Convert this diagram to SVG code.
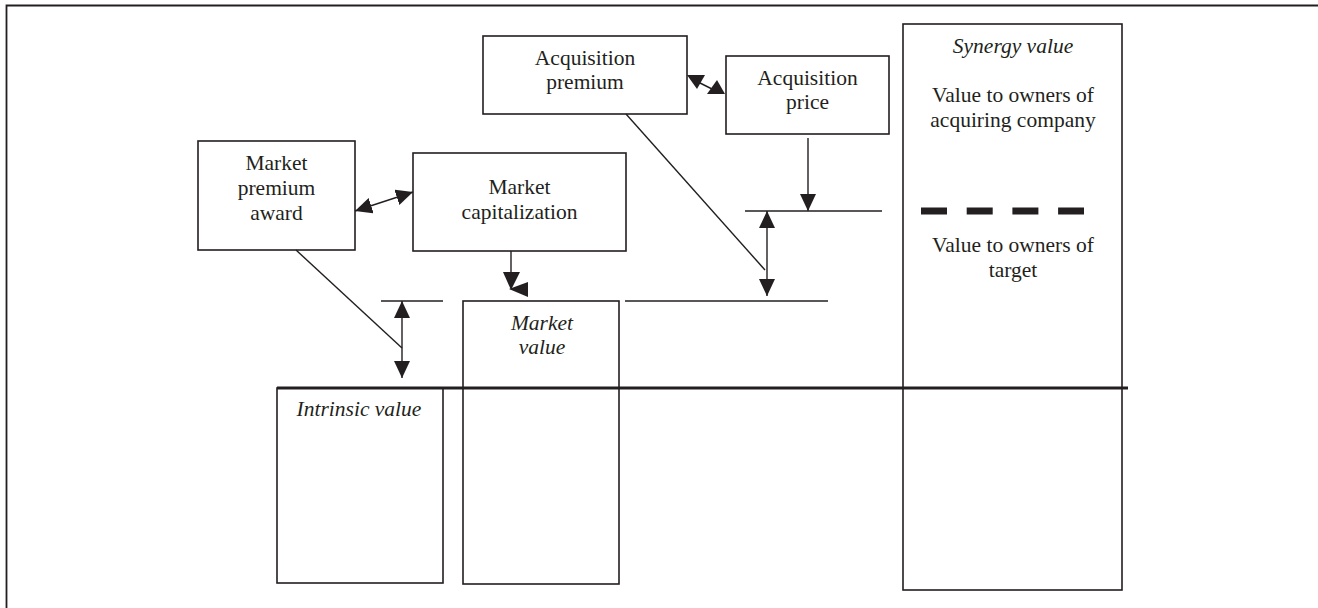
<svg xmlns="http://www.w3.org/2000/svg" width="1318" height="608" viewBox="0 0 1318 608">
<style>
.box{fill:#fff;stroke:#231f20;stroke-width:1.6}
.ln{fill:none;stroke:#231f20;stroke-width:1.4}
.t{font-family:"Liberation Serif","Times New Roman",serif;font-size:21.5px;fill:#231f20;text-anchor:middle}
.i{font-style:italic}
.head{fill:#231f20;stroke:none}
</style>
<defs>
<marker id="ah" viewBox="0 0 17 16" refX="17" refY="8" markerWidth="17" markerHeight="16" markerUnits="userSpaceOnUse" orient="auto-start-reverse">
<path d="M0,0 L17,8 L0,16 z" fill="#231f20"/>
</marker>
</defs>
<rect x="0" y="0" width="1318" height="608" fill="#fff"/>
<path d="M6.5,608 V5.5 H1318" fill="none" stroke="#231f20" stroke-width="1.8"/>

<g id="intrinsic-value">
<rect class="box" x="277" y="388" width="166" height="195"/>
<text class="t i" x="359" y="416">Intrinsic value</text>
</g>
<g id="market-value">
<rect class="box" x="463" y="301" width="156" height="283"/>
<text class="t i" x="542" y="330">Market</text>
<text class="t i" x="542" y="354">value</text>
</g>
<g id="synergy-value">
<rect class="box" x="903" y="24" width="219" height="566"/>
<text class="t i" x="1013" y="53">Synergy value</text>
<text class="t" x="1013" y="102">Value to owners of</text>
<text class="t" x="1013" y="127">acquiring company</text>
<line x1="921" y1="211" x2="1084" y2="211" stroke="#231f20" stroke-width="7" stroke-dasharray="26,19.7"/>
<text class="t" x="1013" y="252">Value to owners of</text>
<text class="t" x="1013" y="277">target</text>
</g>
<g id="market-premium-award">
<rect class="box" x="198" y="141" width="157" height="109"/>
<text class="t" x="276.5" y="170">Market</text>
<text class="t" x="276.5" y="195">premium</text>
<text class="t" x="276.5" y="220">award</text>
</g>
<g id="market-capitalization">
<rect class="box" x="413" y="153" width="213" height="98"/>
<text class="t" x="519.5" y="194">Market</text>
<text class="t" x="519.5" y="219">capitalization</text>
</g>
<g id="acquisition-premium">
<rect class="box" x="483" y="36" width="204" height="78"/>
<text class="t" x="585" y="65">Acquisition</text>
<text class="t" x="585" y="89">premium</text>
</g>
<g id="acquisition-price">
<rect class="box" x="726" y="56" width="163" height="78"/>
<text class="t" x="807.5" y="85">Acquisition</text>
<text class="t" x="807.5" y="109">price</text>
</g>

<g id="connectors">
<line x1="277" y1="388" x2="1128" y2="388" stroke="#231f20" stroke-width="3.2"/>
<line class="ln" x1="381" y1="301" x2="443" y2="301"/>
<line class="ln" x1="625" y1="301" x2="828" y2="301"/>
<line class="ln" x1="745" y1="211" x2="882" y2="211"/>
<line class="ln" x1="355" y1="211" x2="413" y2="192" marker-start="url(#ah)" marker-end="url(#ah)"/>
<line class="ln" x1="296" y1="250" x2="402" y2="348"/>
<line class="ln" x1="402" y1="301" x2="402" y2="378" marker-start="url(#ah)" marker-end="url(#ah)"/>
<line class="ln" x1="626" y1="114" x2="765" y2="270"/>
<line class="ln" x1="767" y1="211" x2="767" y2="296" marker-start="url(#ah)" marker-end="url(#ah)"/>
<line class="ln" x1="808" y1="138" x2="808" y2="211" marker-end="url(#ah)"/>
<line class="ln" x1="511" y1="251" x2="511" y2="274"/>
<polygon class="head" points="503,272 520,272 511,290"/>
<polygon class="head" points="509,289 528,282 528,297"/>
<line class="ln" x1="694" y1="80" x2="716" y2="91"/>
<polygon class="head" points="687,75 705,75 697,89"/>
<polygon class="head" points="717,80 707,94 725,94"/>
</g>
</svg>
